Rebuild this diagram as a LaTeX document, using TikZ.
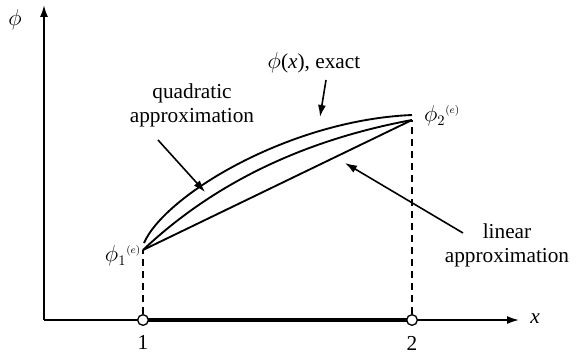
\documentclass[tikz,border=0pt]{standalone}
\usepackage{fontspec}
\setmainfont{Liberation Serif}
\usepackage{tikz}
\usetikzlibrary{arrows.meta,positioning,calc}

\begin{document}
\begin{tikzpicture}[
  x=0.0264cm, y=-0.0264cm,
  axis/.style={line width=1.3pt, -{Latex[length=9pt,width=6pt]}},
  curve/.style={line width=1.4pt},
  pointer/.style={line width=1.2pt, -{Latex[length=9pt,width=6pt]}},
  guide/.style={line width=1pt, dash pattern=on 5.5pt off 3.5pt},
  knot/.style={circle, draw, line width=1pt, fill=white, inner sep=0pt,
               minimum size=8pt},
  txt/.style={font=\fontsize{16}{18}\selectfont, align=center, inner sep=1pt},
]
  \useasboundingbox (0,0) rectangle (579,355);

  % Axes
  \coordinate (origin) at (44,320);
  \coordinate (ytip) at (44,5);
  \coordinate (xtip) at (519,320);
  \draw[axis] (origin) -- (ytip);
  \draw[axis] (origin) -- (xtip);
  \node[txt] (philbl) at (15,20) {$\phi$};
  \node[txt] (xlbl) at (535,319) {\textit{x}};

  % Element and its nodes
  \draw[line width=3pt] (143,320) -- (412,320);
  \node[knot] (n1) at (143,320) {};
  \node[knot] (n2) at (412,320) {};
  \node[txt] (lbl1) at (143,342) {1};
  \node[txt] (lbl2) at (412,343) {2};

  % Nodal values
  \coordinate (p1) at (143,250);
  \coordinate (p1e) at (144,243);
  \coordinate (p2) at (412,120);
  \coordinate (p2e) at (412,115);
  \draw[guide] (n1) -- (p1);
  \draw[guide] (n2) -- (p2);
  \node[txt] (phi1) at (123,256) {$\phi_{1}{}^{\scriptscriptstyle(e)}$};
  \node[txt] (phi2) at (442,116) {$\phi_{2}{}^{\scriptscriptstyle(e)}$};

  % Exact, quadratic and linear curves
  \draw[curve] (p1e) .. controls (165,195) and (290,120) .. (p2e);
  \draw[curve] (p1) .. controls (214,183) and (304,140) .. (p2);
  \draw[curve] (p1) -- (p2);

  % Labels and pointers
  \node[txt] (exactlbl) at (314,63) {$\phi$(\textit{x}), exact};
  \node[txt] (quadlbl) at (192,105) {quadratic\\approximation};
  \node[txt] (linlbl) at (507,245) {linear\\approximation};
  \coordinate (exactfrom) at (326,80);
  \coordinate (exactto) at (320,117);
  \coordinate (quadfrom) at (158,140);
  \coordinate (quadto) at (205,192);
  \coordinate (linfrom) at (463,233);
  \coordinate (linto) at (345,163);
  \draw[pointer] (exactfrom) -- (exactto);
  \draw[pointer] (quadfrom) -- (quadto);
  \draw[pointer] (linfrom) -- (linto);
\end{tikzpicture}
\end{document}
